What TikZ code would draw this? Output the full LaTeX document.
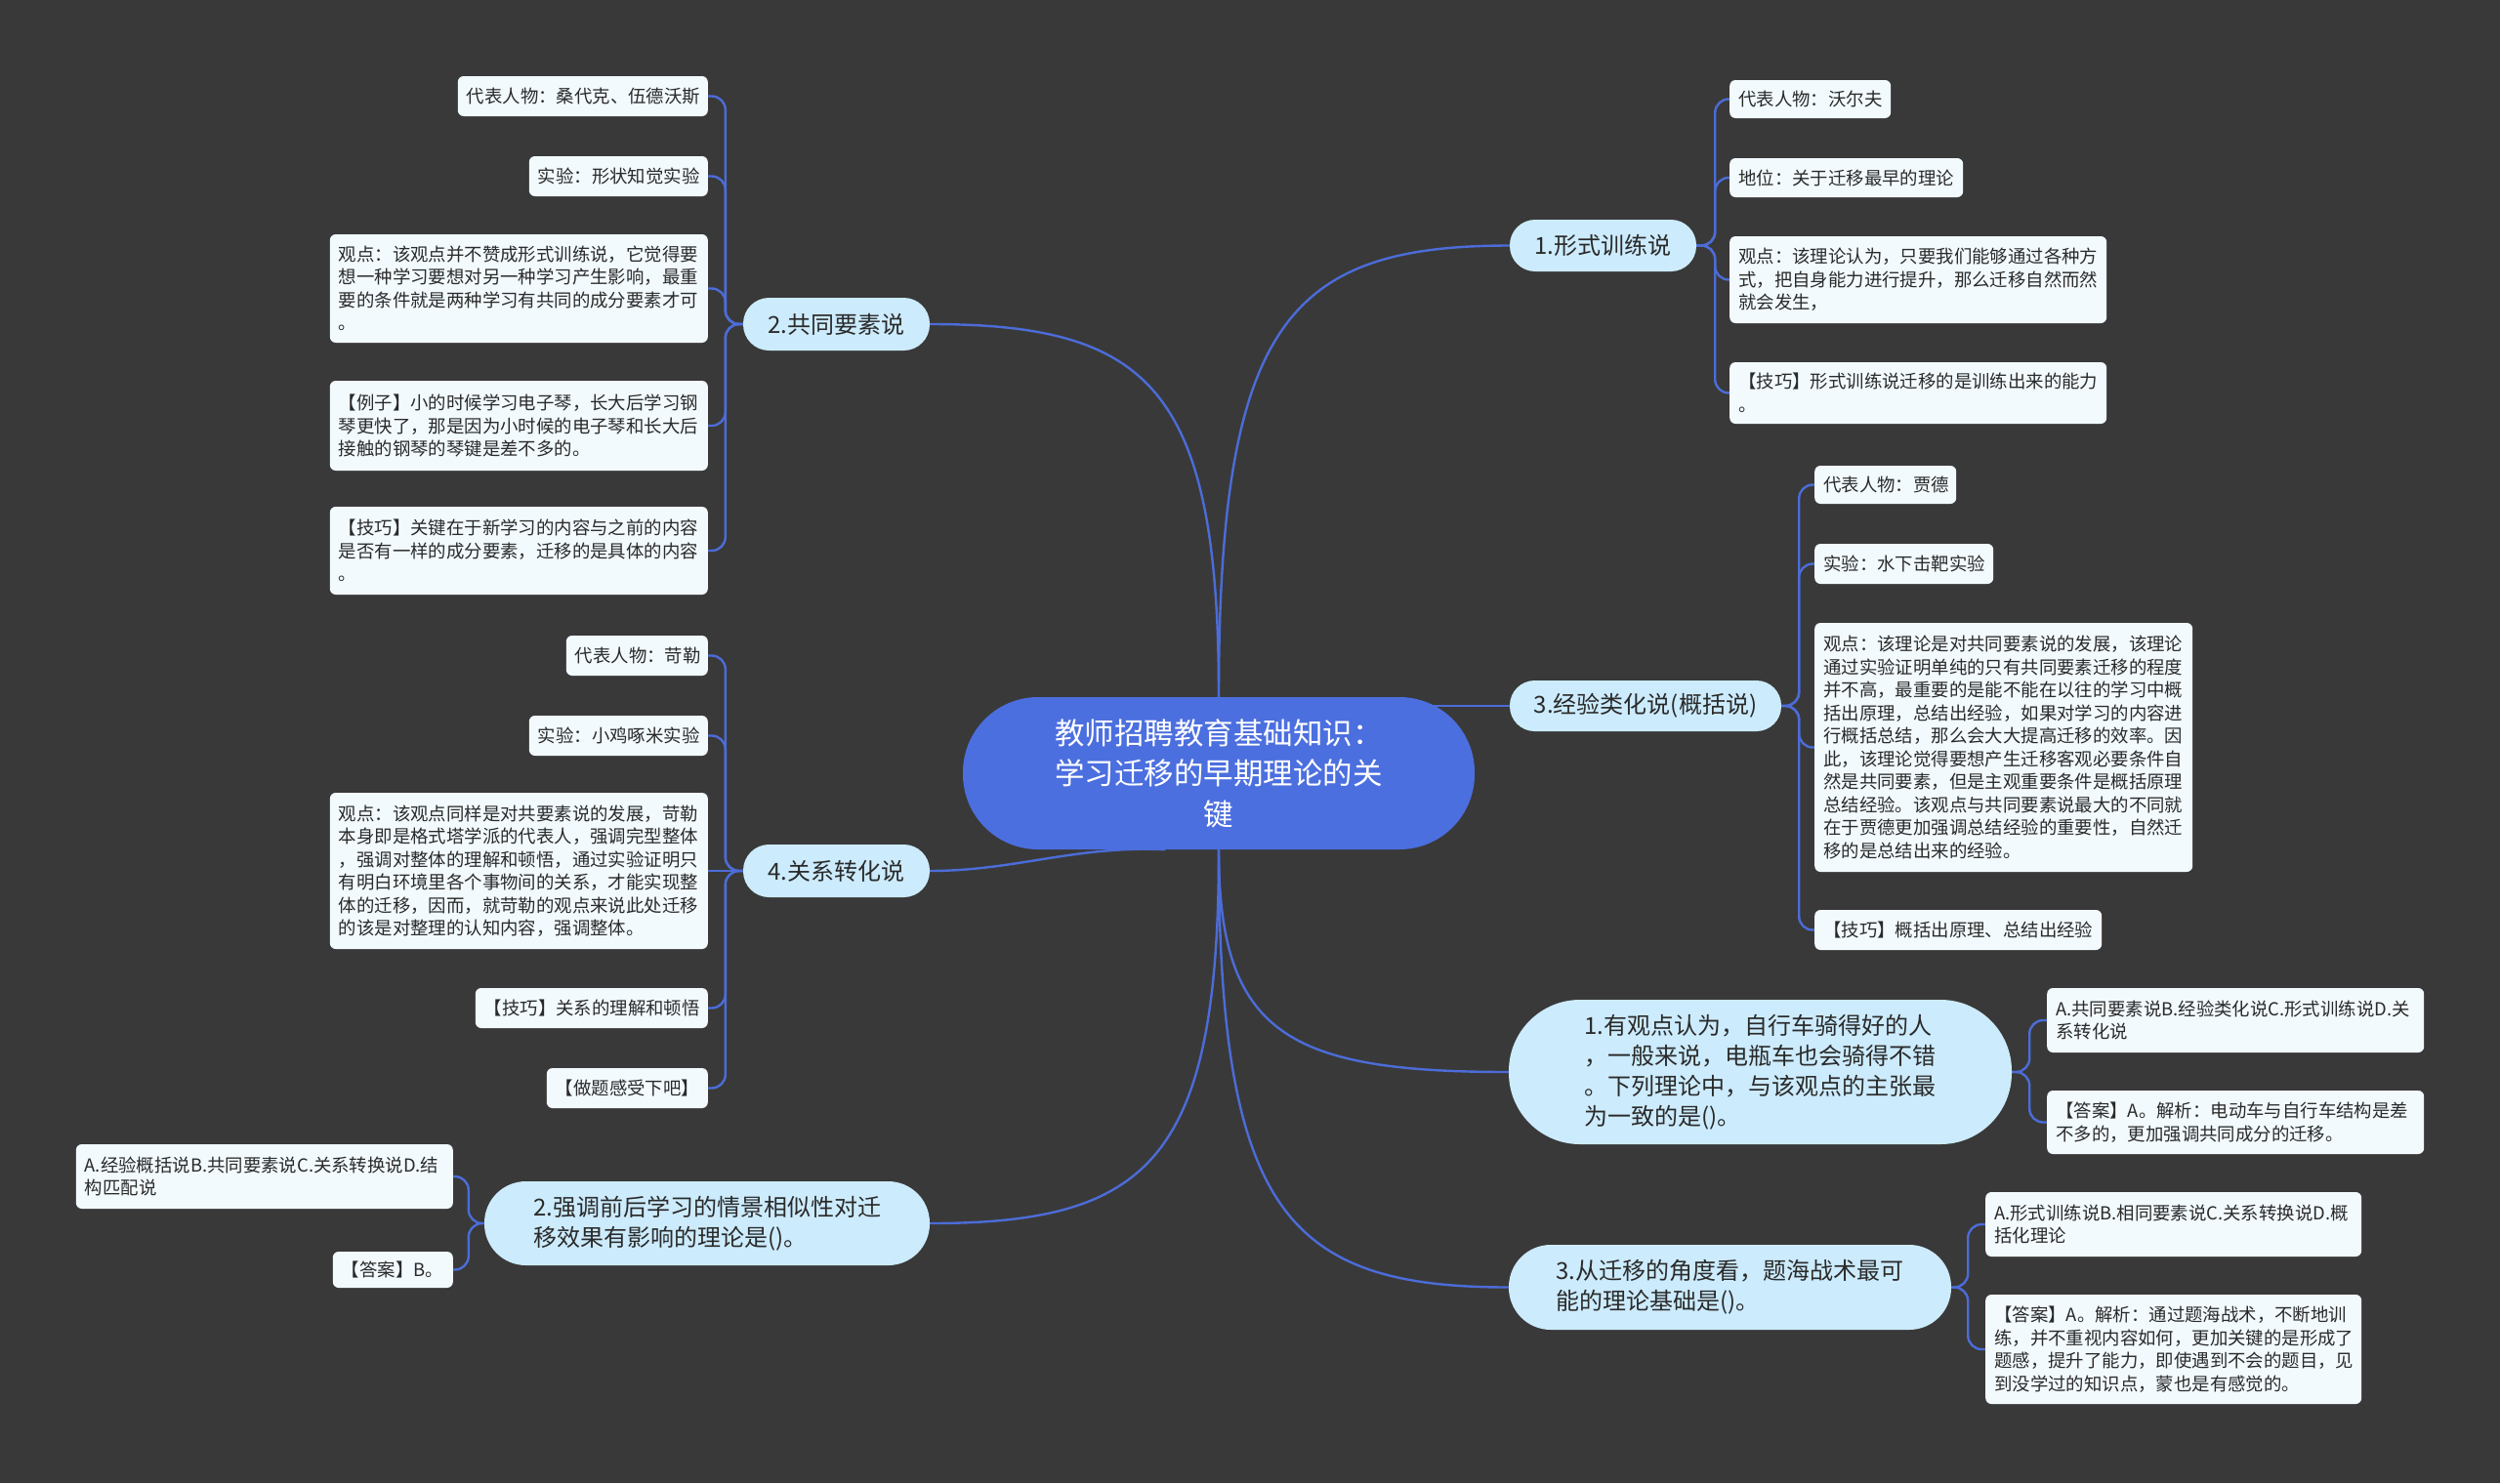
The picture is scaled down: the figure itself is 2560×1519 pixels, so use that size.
\documentclass[tikz,border=0pt]{standalone}
\usepackage{fontspec}
\setmainfont{Noto Sans CJK SC}
\usetikzlibrary{calc}
\definecolor{bgc}{HTML}{393939}
\definecolor{edgeblue}{HTML}{4C6CD8}
\definecolor{centerfill}{HTML}{4C6FDF}
\definecolor{topicfill}{HTML}{CCEBFC}
\definecolor{leaffill}{HTML}{F2FAFE}
\definecolor{txt}{HTML}{2A2A2A}
\pgfdeclarelayer{bglayer}
\pgfsetlayers{bglayer,main}
\begin{document}
\begin{tikzpicture}[x=1pt,y=-1pt,
  edge/.style={draw=edgeblue, line width=2.4pt},
  leaf/.style={fill=leaffill, rounded corners=6pt, inner xsep=9pt, inner ysep=3pt, align=left, font=\fontsize{18.4}{23.5}\selectfont, text=txt},
  topic/.style={fill=topicfill, inner sep=0pt, align=left, font=\fontsize{24}{31}\selectfont, text=txt},
  rootnode/.style={fill=centerfill, inner sep=0pt, align=center, font=\fontsize{30.5}{41.6}\selectfont, text=white}
]
\begin{pgfonlayer}{bglayer}
\fill[bgc] (0,0) rectangle (2560,1519);
\end{pgfonlayer}
\useasboundingbox (0,0) rectangle (2560,1519);

% root
\node[rootnode, minimum width=524pt, minimum height=156pt, rounded corners=77pt] (c) at (1248,792) {教师招聘教育基础知识：\\学习迁移的早期理论的关\\键};

% topics
\node[topic, minimum width=191pt, minimum height=53pt, rounded corners=26pt] (n1) at (1641.5,251.5) {1.形式训练说};
\node[topic, minimum width=278pt, minimum height=52pt, rounded corners=25.5pt] (n3) at (1685,723) {3.经验类化说(概括说)};
\node[topic, minimum width=515pt, minimum height=148pt, rounded corners=73pt] (q1) at (1802.5,1098) {1.有观点认为，自行车骑得好的人\\，一般来说，电瓶车也会骑得不错\\。下列理论中，与该观点的主张最\\为一致的是()。};
\node[topic, minimum width=453pt, minimum height=87pt, rounded corners=43pt] (q3) at (1771.5,1318.5) {3.从迁移的角度看，题海战术最可\\能的理论基础是()。};
\node[topic, minimum width=191pt, minimum height=54pt, rounded corners=26.5pt] (n2) at (856.5,332) {2.共同要素说};
\node[topic, minimum width=191pt, minimum height=54pt, rounded corners=26.5pt] (n4) at (856.5,892) {4.关系转化说};
\node[topic, minimum width=456pt, minimum height=86pt, rounded corners=42.5pt] (q2) at (724,1253) {2.强调前后学习的情景相似性对迁\\移效果有影响的理论是()。};

% right leaves: 1.形式训练说
\node[leaf, anchor=west, text width=147pt, minimum height=39pt] (R1a) at (1771,101.5) {代表人物：沃尔夫};
\node[leaf, anchor=west, text width=221pt, minimum height=40pt] (R1b) at (1771,182) {地位：关于迁移最早的理论};
\node[leaf, anchor=west, text width=368pt, minimum height=89pt] (R1c) at (1771,286.5) {观点：该理论认为，只要我们能够通过各种方\\式，把自身能力进行提升，那么迁移自然而然\\就会发生，};
\node[leaf, anchor=west, text width=368pt, minimum height=63pt] (R1d) at (1771,402.5) {【技巧】形式训练说迁移的是训练出来的能力\\。};

% right leaves: 3.经验类化说
\node[leaf, anchor=west, text width=127pt, minimum height=39pt] (R3a) at (1858,496.5) {代表人物：贾德};
\node[leaf, anchor=west, text width=165pt, minimum height=41pt] (R3b) at (1858,577.5) {实验：水下击靶实验};
\node[leaf, anchor=west, text width=369pt, minimum height=255pt] (R3c) at (1858,765.5) {观点：该理论是对共同要素说的发展，该理论\\通过实验证明单纯的只有共同要素迁移的程度\\并不高，最重要的是能不能在以往的学习中概\\括出原理，总结出经验，如果对学习的内容进\\行概括总结，那么会大大提高迁移的效率。因\\此，该理论觉得要想产生迁移客观必要条件自\\然是共同要素，但是主观重要条件是概括原理\\总结经验。该观点与共同要素说最大的不同就\\在于贾德更加强调总结经验的重要性，自然迁\\移的是总结出来的经验。};
\node[leaf, anchor=west, text width=276pt, minimum height=41pt] (R3d) at (1858,952.5) {【技巧】概括出原理、总结出经验};

% right leaves: Q1
\node[leaf, anchor=west, text width=368pt, minimum height=66pt] (Q1a) at (2096,1045) {A.共同要素说B.经验类化说C.形式训练说D.关\\系转化说};
\node[leaf, anchor=west, text width=368pt, minimum height=65pt] (Q1b) at (2096,1149.5) {【答案】A。解析：电动车与自行车结构是差\\不多的，更加强调共同成分的迁移。};

% right leaves: Q3
\node[leaf, anchor=west, text width=367pt, minimum height=66pt] (Q3a) at (2033,1254) {A.形式训练说B.相同要素说C.关系转换说D.概\\括化理论};
\node[leaf, anchor=west, text width=367pt, minimum height=112pt] (Q3b) at (2033,1382) {【答案】A。解析：通过题海战术，不断地训\\练，并不重视内容如何，更加关键的是形成了\\题感，提升了能力，即使遇到不会的题目，见\\到没学过的知识点，蒙也是有感觉的。};

% left leaves: 2.共同要素说
\node[leaf, anchor=east, text width=238pt, minimum height=41pt] (L2a) at (725,98.5) {代表人物：桑代克、伍德沃斯};
\node[leaf, anchor=east, text width=165pt, minimum height=41pt] (L2b) at (725,180.5) {实验：形状知觉实验};
\node[leaf, anchor=east, text width=369pt, minimum height=111pt] (L2c) at (725,295.5) {观点：该观点并不赞成形式训练说，它觉得要\\想一种学习要想对另一种学习产生影响，最重\\要的条件就是两种学习有共同的成分要素才可\\。};
\node[leaf, anchor=east, text width=369pt, minimum height=92pt] (L2d) at (725,436) {【例子】小的时候学习电子琴，长大后学习钢\\琴更快了，那是因为小时候的电子琴和长大后\\接触的钢琴的琴键是差不多的。};
\node[leaf, anchor=east, text width=369pt, minimum height=90pt] (L2e) at (725,564) {【技巧】关键在于新学习的内容与之前的内容\\是否有一样的成分要素，迁移的是具体的内容\\。};

% left leaves: 4.关系转化说
\node[leaf, anchor=east, text width=127pt, minimum height=41pt] (L4a) at (725,671.5) {代表人物：苛勒};
\node[leaf, anchor=east, text width=165pt, minimum height=41pt] (L4b) at (725,753.5) {实验：小鸡啄米实验};
\node[leaf, anchor=east, text width=369pt, minimum height=160pt] (L4c) at (725,892) {观点：该观点同样是对共要素说的发展，苛勒\\本身即是格式塔学派的代表人，强调完型整体\\，强调对整体的理解和顿悟，通过实验证明只\\有明白环境里各个事物间的关系，才能实现整\\体的迁移，因而，就苛勒的观点来说此处迁移\\的该是对整理的认知内容，强调整体。};
\node[leaf, anchor=east, text width=220pt, minimum height=41pt] (L4d) at (725,1032.5) {【技巧】关系的理解和顿悟};
\node[leaf, anchor=east, text width=147pt, minimum height=41pt] (L4e) at (725,1114.5) {【做题感受下吧】};

% left leaves: Q2
\node[leaf, anchor=east, text width=368pt, minimum height=66pt] (Q2a) at (464,1205) {A.经验概括说B.共同要素说C.关系转换说D.结\\构匹配说};
\node[leaf, anchor=east, text width=105pt, minimum height=37pt] (Q2b) at (464,1300.5) {【答案】B。};

\begin{pgfonlayer}{bglayer}
% root connectors
\draw[edge] (c.north) .. controls (1248,330) and (1320,251.5) .. (n1.west);
\draw[edge] (c.north) .. controls (1248,397) and (1177,332) .. (n2.east);
\draw[edge] (n3.west) -- (n3.west -| c.center);
\draw[edge] (n4.east) .. controls (1040,892) and (1100,866) .. (c.235);
\draw[edge] (c.south) .. controls (1248,1059) and (1319,1098) .. (q1.west);
\draw[edge] (c.south) .. controls (1248,1242) and (1319,1318.5) .. (q3.west);
\draw[edge] (c.south) .. controls (1248,1188) and (1177,1253) .. (q2.east);
% group connectors
\foreach \ch in {R1a,R1b,R1c,R1d}
  \draw[edge, rounded corners=14pt] (n1.east) -- ++(19,0) |- (\ch.west);
\foreach \ch in {R3a,R3b,R3c,R3d}
  \draw[edge, rounded corners=14pt] (n3.east) -- ++(18,0) |- (\ch.west);
\foreach \ch in {Q1a,Q1b}
  \draw[edge, rounded corners=14pt] (q1.east) -- ++(18,0) |- (\ch.west);
\foreach \ch in {Q3a,Q3b}
  \draw[edge, rounded corners=14pt] (q3.east) -- ++(17,0) |- (\ch.west);
\foreach \ch in {L2a,L2b,L2c,L2d,L2e}
  \draw[edge, rounded corners=14pt] (n2.west) -- ++(-18,0) |- (\ch.east);
\foreach \ch in {L4a,L4b,L4d,L4e}
  \draw[edge, rounded corners=14pt] (n4.west) -- ++(-18,0) |- (\ch.east);
\draw[edge] (n4.west) -- (L4c.east);
\foreach \ch in {Q2a,Q2b}
  \draw[edge, rounded corners=14pt] (q2.west) -- ++(-16,0) |- (\ch.east);
\end{pgfonlayer}
\end{tikzpicture}
\end{document}
